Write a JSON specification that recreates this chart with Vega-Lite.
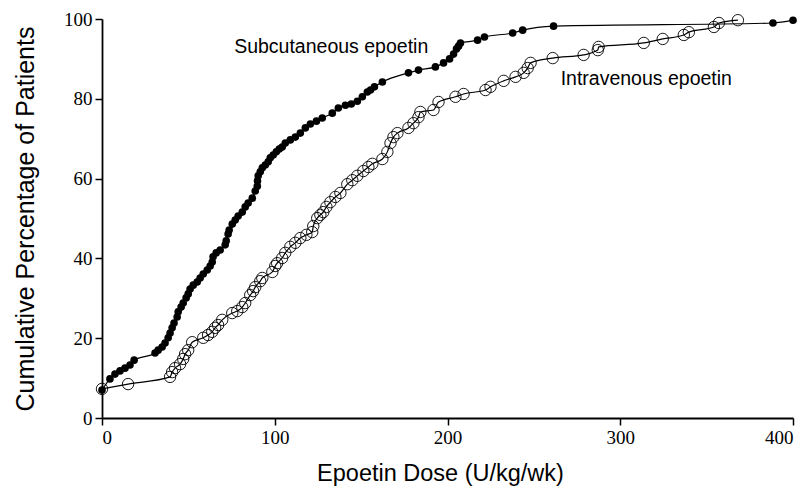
{
  "$schema": "https://vega.github.io/schema/vega-lite/v6.json",
  "width": 691,
  "height": 399,
  "autosize": {"type": "none"},
  "padding": {"left": 102, "top": 19, "right": 16, "bottom": 73},
  "background": "white",
  "config": {
    "view": {"stroke": null},
    "axis": {
      "grid": false,
      "domainColor": "black",
      "domainWidth": 1.8,
      "tickColor": "black",
      "tickWidth": 1.5,
      "tickSize": 7,
      "labelColor": "black",
      "titleColor": "black",
      "labelFont": "Liberation Sans Narrow",
      "labelFontSize": 19,
      "titleFont": "Liberation Sans",
      "titleFontSize": 23.5,
      "titleFontWeight": "normal"
    }
  },
  "datasets": {
    "curves": [
      {"series": "Subcutaneous", "dose": 0, "pct": 7.0},
      {"series": "Subcutaneous", "dose": 4.6, "pct": 9.8},
      {"series": "Subcutaneous", "dose": 7.5, "pct": 11.0},
      {"series": "Subcutaneous", "dose": 10.4, "pct": 11.8},
      {"series": "Subcutaneous", "dose": 13.3, "pct": 12.5},
      {"series": "Subcutaneous", "dose": 16.2, "pct": 13.3},
      {"series": "Subcutaneous", "dose": 18.6, "pct": 14.5},
      {"series": "Subcutaneous", "dose": 30.7, "pct": 16.3},
      {"series": "Subcutaneous", "dose": 32.5, "pct": 17.0},
      {"series": "Subcutaneous", "dose": 34.8, "pct": 17.8},
      {"series": "Subcutaneous", "dose": 36.5, "pct": 18.8},
      {"series": "Subcutaneous", "dose": 38.3, "pct": 20.1},
      {"series": "Subcutaneous", "dose": 39.4, "pct": 21.3},
      {"series": "Subcutaneous", "dose": 40.6, "pct": 22.6},
      {"series": "Subcutaneous", "dose": 41.7, "pct": 23.8},
      {"series": "Subcutaneous", "dose": 43.5, "pct": 25.3},
      {"series": "Subcutaneous", "dose": 44.1, "pct": 26.6},
      {"series": "Subcutaneous", "dose": 45.8, "pct": 27.8},
      {"series": "Subcutaneous", "dose": 47.0, "pct": 28.8},
      {"series": "Subcutaneous", "dose": 48.7, "pct": 30.1},
      {"series": "Subcutaneous", "dose": 49.9, "pct": 31.1},
      {"series": "Subcutaneous", "dose": 51.0, "pct": 32.3},
      {"series": "Subcutaneous", "dose": 52.8, "pct": 33.3},
      {"series": "Subcutaneous", "dose": 55.1, "pct": 34.1},
      {"series": "Subcutaneous", "dose": 56.8, "pct": 35.1},
      {"series": "Subcutaneous", "dose": 58.6, "pct": 36.1},
      {"series": "Subcutaneous", "dose": 60.9, "pct": 37.1},
      {"series": "Subcutaneous", "dose": 62.6, "pct": 38.1},
      {"series": "Subcutaneous", "dose": 63.8, "pct": 39.1},
      {"series": "Subcutaneous", "dose": 64.3, "pct": 40.4},
      {"series": "Subcutaneous", "dose": 66.1, "pct": 41.4},
      {"series": "Subcutaneous", "dose": 68.4, "pct": 42.1},
      {"series": "Subcutaneous", "dose": 71.3, "pct": 43.4},
      {"series": "Subcutaneous", "dose": 71.9, "pct": 44.4},
      {"series": "Subcutaneous", "dose": 73.0, "pct": 46.1},
      {"series": "Subcutaneous", "dose": 73.6, "pct": 47.1},
      {"series": "Subcutaneous", "dose": 75.4, "pct": 48.6},
      {"series": "Subcutaneous", "dose": 77.1, "pct": 49.6},
      {"series": "Subcutaneous", "dose": 78.8, "pct": 50.6},
      {"series": "Subcutaneous", "dose": 81.2, "pct": 51.6},
      {"series": "Subcutaneous", "dose": 82.9, "pct": 52.9},
      {"series": "Subcutaneous", "dose": 84.6, "pct": 53.9},
      {"series": "Subcutaneous", "dose": 87.0, "pct": 55.1},
      {"series": "Subcutaneous", "dose": 88.7, "pct": 56.9},
      {"series": "Subcutaneous", "dose": 89.9, "pct": 58.1},
      {"series": "Subcutaneous", "dose": 90.0, "pct": 59.4},
      {"series": "Subcutaneous", "dose": 90.4, "pct": 60.7},
      {"series": "Subcutaneous", "dose": 91.6, "pct": 61.7},
      {"series": "Subcutaneous", "dose": 92.8, "pct": 62.7},
      {"series": "Subcutaneous", "dose": 94.5, "pct": 63.4},
      {"series": "Subcutaneous", "dose": 96.2, "pct": 64.2},
      {"series": "Subcutaneous", "dose": 97.4, "pct": 65.2},
      {"series": "Subcutaneous", "dose": 99.1, "pct": 65.9},
      {"series": "Subcutaneous", "dose": 100.9, "pct": 66.7},
      {"series": "Subcutaneous", "dose": 102.6, "pct": 67.4},
      {"series": "Subcutaneous", "dose": 104.3, "pct": 67.9},
      {"series": "Subcutaneous", "dose": 106.1, "pct": 68.9},
      {"series": "Subcutaneous", "dose": 109.0, "pct": 69.7},
      {"series": "Subcutaneous", "dose": 111.9, "pct": 70.4},
      {"series": "Subcutaneous", "dose": 114.8, "pct": 71.4},
      {"series": "Subcutaneous", "dose": 117.7, "pct": 72.7},
      {"series": "Subcutaneous", "dose": 120.6, "pct": 73.7},
      {"series": "Subcutaneous", "dose": 124.1, "pct": 74.4},
      {"series": "Subcutaneous", "dose": 127.5, "pct": 75.2},
      {"series": "Subcutaneous", "dose": 133.3, "pct": 76.4},
      {"series": "Subcutaneous", "dose": 136.8, "pct": 77.7},
      {"series": "Subcutaneous", "dose": 140.9, "pct": 78.4},
      {"series": "Subcutaneous", "dose": 144.3, "pct": 78.7},
      {"series": "Subcutaneous", "dose": 147.8, "pct": 79.4},
      {"series": "Subcutaneous", "dose": 150.7, "pct": 80.5},
      {"series": "Subcutaneous", "dose": 153.6, "pct": 81.7},
      {"series": "Subcutaneous", "dose": 155.4, "pct": 82.2},
      {"series": "Subcutaneous", "dose": 157.7, "pct": 83.0},
      {"series": "Subcutaneous", "dose": 162.3, "pct": 84.2},
      {"series": "Subcutaneous", "dose": 177.4, "pct": 86.5},
      {"series": "Subcutaneous", "dose": 183.2, "pct": 87.2},
      {"series": "Subcutaneous", "dose": 193.0, "pct": 88.0},
      {"series": "Subcutaneous", "dose": 197.7, "pct": 89.0},
      {"series": "Subcutaneous", "dose": 201.2, "pct": 90.0},
      {"series": "Subcutaneous", "dose": 203.5, "pct": 91.2},
      {"series": "Subcutaneous", "dose": 205.2, "pct": 92.5},
      {"series": "Subcutaneous", "dose": 206.4, "pct": 93.2},
      {"series": "Subcutaneous", "dose": 207.5, "pct": 94.0},
      {"series": "Subcutaneous", "dose": 217.4, "pct": 94.7},
      {"series": "Subcutaneous", "dose": 221.4, "pct": 95.5},
      {"series": "Subcutaneous", "dose": 237.7, "pct": 96.5},
      {"series": "Subcutaneous", "dose": 243.5, "pct": 97.2},
      {"series": "Subcutaneous", "dose": 261.4, "pct": 98.2},
      {"series": "Subcutaneous", "dose": 388.4, "pct": 99.0},
      {"series": "Subcutaneous", "dose": 400, "pct": 99.7},
      {"series": "Intravenous", "dose": 0, "pct": 7.3},
      {"series": "Intravenous", "dose": 15.1, "pct": 8.5},
      {"series": "Intravenous", "dose": 39.4, "pct": 10.3},
      {"series": "Intravenous", "dose": 40.6, "pct": 11.5},
      {"series": "Intravenous", "dose": 42.3, "pct": 12.5},
      {"series": "Intravenous", "dose": 45.2, "pct": 13.5},
      {"series": "Intravenous", "dose": 47.0, "pct": 14.8},
      {"series": "Intravenous", "dose": 48.1, "pct": 16.0},
      {"series": "Intravenous", "dose": 49.9, "pct": 17.0},
      {"series": "Intravenous", "dose": 52.2, "pct": 19.0},
      {"series": "Intravenous", "dose": 58.6, "pct": 20.1},
      {"series": "Intravenous", "dose": 61.4, "pct": 20.8},
      {"series": "Intravenous", "dose": 63.8, "pct": 21.6},
      {"series": "Intravenous", "dose": 65.5, "pct": 22.6},
      {"series": "Intravenous", "dose": 67.2, "pct": 23.3},
      {"series": "Intravenous", "dose": 69.6, "pct": 24.6},
      {"series": "Intravenous", "dose": 75.4, "pct": 26.3},
      {"series": "Intravenous", "dose": 78.3, "pct": 26.8},
      {"series": "Intravenous", "dose": 81.2, "pct": 27.8},
      {"series": "Intravenous", "dose": 82.9, "pct": 28.8},
      {"series": "Intravenous", "dose": 85.8, "pct": 30.8},
      {"series": "Intravenous", "dose": 87.5, "pct": 31.8},
      {"series": "Intravenous", "dose": 88.7, "pct": 32.8},
      {"series": "Intravenous", "dose": 91.6, "pct": 34.3},
      {"series": "Intravenous", "dose": 92.8, "pct": 35.1},
      {"series": "Intravenous", "dose": 98.6, "pct": 36.6},
      {"series": "Intravenous", "dose": 100.3, "pct": 38.1},
      {"series": "Intravenous", "dose": 101.4, "pct": 38.8},
      {"series": "Intravenous", "dose": 104.3, "pct": 40.1},
      {"series": "Intravenous", "dose": 106.1, "pct": 41.4},
      {"series": "Intravenous", "dose": 109.0, "pct": 42.9},
      {"series": "Intravenous", "dose": 111.9, "pct": 43.9},
      {"series": "Intravenous", "dose": 114.8, "pct": 45.1},
      {"series": "Intravenous", "dose": 118.3, "pct": 45.9},
      {"series": "Intravenous", "dose": 121.7, "pct": 46.6},
      {"series": "Intravenous", "dose": 122.3, "pct": 48.1},
      {"series": "Intravenous", "dose": 124.6, "pct": 50.1},
      {"series": "Intravenous", "dose": 126.4, "pct": 50.9},
      {"series": "Intravenous", "dose": 128.1, "pct": 51.6},
      {"series": "Intravenous", "dose": 129.9, "pct": 52.9},
      {"series": "Intravenous", "dose": 132.2, "pct": 54.1},
      {"series": "Intravenous", "dose": 135.1, "pct": 55.4},
      {"series": "Intravenous", "dose": 138.0, "pct": 56.4},
      {"series": "Intravenous", "dose": 142.0, "pct": 58.6},
      {"series": "Intravenous", "dose": 144.9, "pct": 59.6},
      {"series": "Intravenous", "dose": 147.8, "pct": 60.7},
      {"series": "Intravenous", "dose": 151.3, "pct": 61.9},
      {"series": "Intravenous", "dose": 154.2, "pct": 62.9},
      {"series": "Intravenous", "dose": 156.5, "pct": 63.7},
      {"series": "Intravenous", "dose": 162.3, "pct": 64.9},
      {"series": "Intravenous", "dose": 165.2, "pct": 66.7},
      {"series": "Intravenous", "dose": 167.0, "pct": 68.9},
      {"series": "Intravenous", "dose": 168.7, "pct": 70.4},
      {"series": "Intravenous", "dose": 171.0, "pct": 71.4},
      {"series": "Intravenous", "dose": 177.4, "pct": 72.7},
      {"series": "Intravenous", "dose": 180.3, "pct": 73.9},
      {"series": "Intravenous", "dose": 183.2, "pct": 75.4},
      {"series": "Intravenous", "dose": 184.3, "pct": 76.7},
      {"series": "Intravenous", "dose": 191.9, "pct": 77.2},
      {"series": "Intravenous", "dose": 194.8, "pct": 79.2},
      {"series": "Intravenous", "dose": 204.6, "pct": 80.5},
      {"series": "Intravenous", "dose": 209.3, "pct": 81.2},
      {"series": "Intravenous", "dose": 222.0, "pct": 82.2},
      {"series": "Intravenous", "dose": 224.9, "pct": 83.0},
      {"series": "Intravenous", "dose": 232.5, "pct": 84.5},
      {"series": "Intravenous", "dose": 239.4, "pct": 85.5},
      {"series": "Intravenous", "dose": 244.1, "pct": 86.5},
      {"series": "Intravenous", "dose": 246.4, "pct": 87.7},
      {"series": "Intravenous", "dose": 248.1, "pct": 89.0},
      {"series": "Intravenous", "dose": 260.9, "pct": 90.2},
      {"series": "Intravenous", "dose": 278.8, "pct": 91.0},
      {"series": "Intravenous", "dose": 287.0, "pct": 92.2},
      {"series": "Intravenous", "dose": 287.5, "pct": 93.0},
      {"series": "Intravenous", "dose": 313.6, "pct": 94.0},
      {"series": "Intravenous", "dose": 324.6, "pct": 95.0},
      {"series": "Intravenous", "dose": 336.8, "pct": 96.0},
      {"series": "Intravenous", "dose": 339.7, "pct": 96.7},
      {"series": "Intravenous", "dose": 354.2, "pct": 98.0},
      {"series": "Intravenous", "dose": 357.1, "pct": 99.0},
      {"series": "Intravenous", "dose": 368.1, "pct": 99.7}
    ],
    "labels": [
      {"dose": 76.5, "pct": 93.0, "label": "Subcutaneous epoetin"},
      {"dose": 265.5, "pct": 85.0, "label": "Intravenous epoetin"}
    ]
  },
  "layer": [
    {
      "data": {"name": "curves"},
      "mark": {"type": "line", "interpolate": "monotone", "color": "black", "strokeWidth": 1.2},
      "encoding": {
        "x": {
          "field": "dose", "type": "quantitative",
          "scale": {"domain": [0, 400], "nice": false, "zero": false},
          "axis": {"values": [0, 100, 200, 300, 400], "title": "Epoetin Dose (U/kg/wk)", "labelPadding": 3, "titlePadding": 14, "titleX": 338}
        },
        "y": {
          "field": "pct", "type": "quantitative",
          "scale": {"domain": [0, 100], "nice": false},
          "axis": {"values": [0, 20, 40, 60, 80, 100], "title": "Cumulative Percentage of Patients", "labelPadding": 3, "titlePadding": 25, "titleFontSize": 25}
        },
        "detail": {"field": "series"}
      }
    },
    {
      "data": {"name": "curves"},
      "transform": [{"filter": "datum.series == 'Subcutaneous'"}],
      "mark": {"type": "point", "shape": "circle", "filled": true, "color": "black", "size": 58, "opacity": 1},
      "encoding": {
        "x": {"field": "dose", "type": "quantitative"},
        "y": {"field": "pct", "type": "quantitative"}
      }
    },
    {
      "data": {"name": "curves"},
      "transform": [{"filter": "datum.series == 'Intravenous'"}],
      "mark": {"type": "point", "shape": "circle", "filled": false, "color": "black", "size": 130, "strokeWidth": 0.9, "opacity": 1},
      "encoding": {
        "x": {"field": "dose", "type": "quantitative"},
        "y": {"field": "pct", "type": "quantitative"}
      }
    },
    {
      "data": {"name": "labels"},
      "mark": {"type": "text", "align": "left", "baseline": "middle", "font": "Liberation Sans", "fontSize": 19.5, "color": "black"},
      "encoding": {
        "x": {"field": "dose", "type": "quantitative"},
        "y": {"field": "pct", "type": "quantitative"},
        "text": {"field": "label"}
      }
    }
  ]
}
